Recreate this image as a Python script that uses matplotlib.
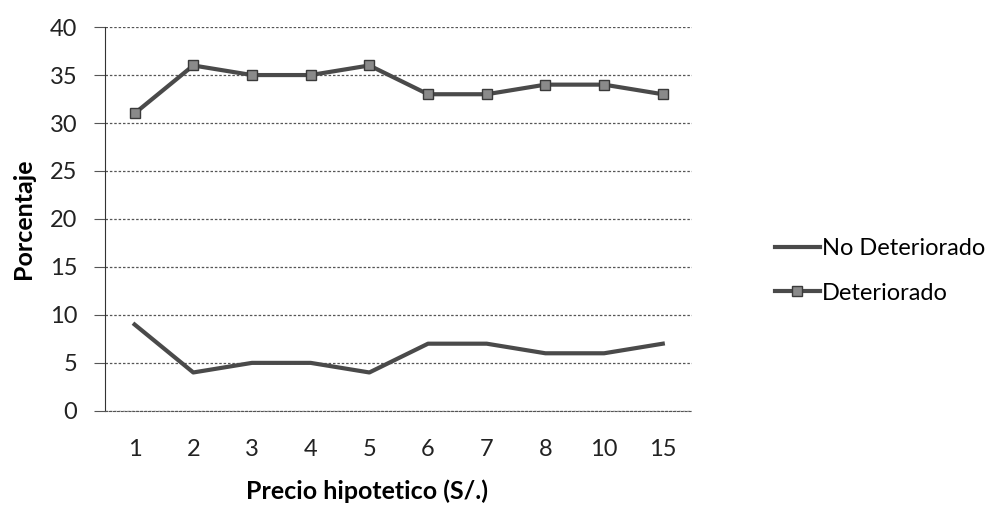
import matplotlib.pyplot as plt

precios = ['1', '2', '3', '4', '5', '6', '7', '8', '10', '15']
no_deteriorado = [9, 4, 5, 5, 4, 7, 7, 6, 6, 7]
deteriorado = [31, 36, 35, 35, 36, 33, 33, 34, 34, 33]
y_ticks = [0, 5, 10, 15, 20, 25, 30, 35, 40]

plt.rcParams['font.family'] = ['Lato', 'DejaVu Sans']

fig = plt.figure(figsize=(9.93, 5.11), dpi=100)
ax = fig.add_axes([0.106, 0.196, 0.591, 0.751])

x = range(len(precios))
ax.plot(x, no_deteriorado, color='#4a4a4a', lw=3, label='No Deteriorado')
ax.plot(x, deteriorado, color='#4a4a4a', lw=3, marker='s', markersize=7,
        markerfacecolor='#8a8a8a', markeredgecolor='#3a3a3a', label='Deteriorado')

ax.set_xlim(-0.5, len(precios) - 0.5)
ax.set_ylim(0, 40)
ax.set_yticks(y_ticks)
ax.set_xticks(list(x))
ax.set_xticklabels(precios)
ax.yaxis.grid(True, color='#555555', linestyle=(0, (2, 1.5)), lw=0.9)
ax.set_axisbelow(True)

for s in ['top', 'right']:
    ax.spines[s].set_visible(False)
ax.spines['left'].set_color('#333333')
ax.spines['bottom'].set_color('#555555')
ax.spines['bottom'].set_linestyle((0, (2, 1.5)))
ax.tick_params(axis='y', length=8, color='#555555', labelsize=17, pad=12, colors='#222222')
ax.tick_params(axis='x', length=0, labelsize=17, pad=20, colors='#222222')

ax.set_ylabel('Porcentaje', fontsize=18, fontweight='bold')
ax.yaxis.set_label_coords(-0.12, 0.5)
ax.set_xlabel('Precio hipotetico (S/.)', fontsize=18, fontweight='bold')
ax.xaxis.set_label_coords(0.446, -0.18)

ax.legend(loc='center left', bbox_to_anchor=(1.105, 0.365), frameon=False,
          fontsize=17, handlelength=1.9, handletextpad=0.1, labelspacing=1.0)

fig.savefig('out.png', dpi=100)
